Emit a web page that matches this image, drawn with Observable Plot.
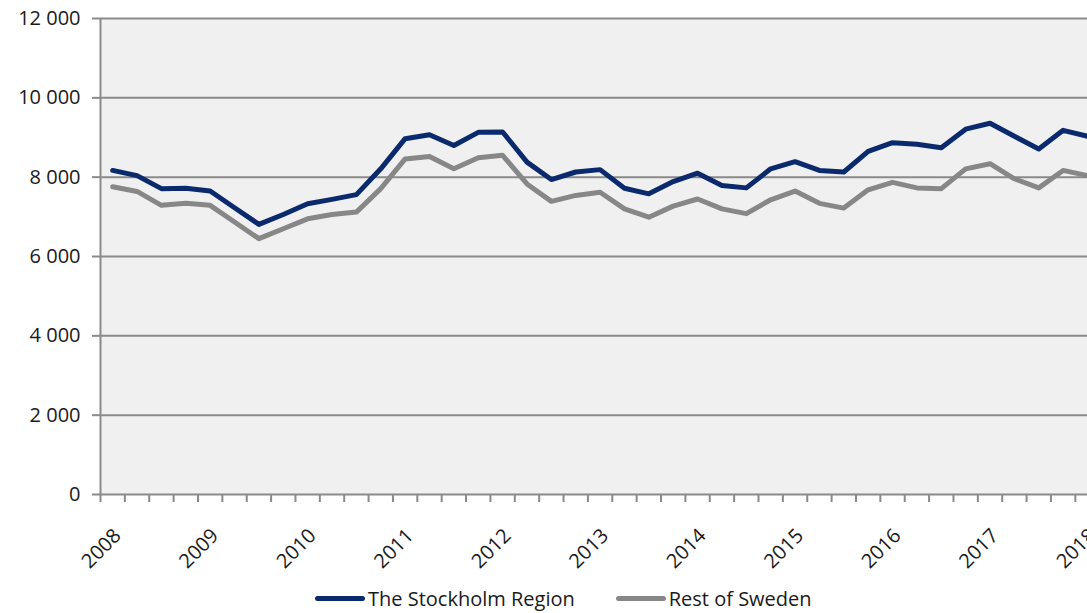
<!DOCTYPE html>
<html>
<head>
<meta charset="utf-8">
<script src="https://cdn.jsdelivr.net/npm/d3@7"></script>
<script src="https://cdn.jsdelivr.net/npm/@observablehq/plot@0.6"></script>
<style>
  html, body { margin: 0; padding: 0; background: #ffffff; }
  body { width: 1087px; height: 613px; overflow: hidden; font-family: "Open Sans", sans-serif; }
  #legend { height: 29px; display: flex; align-items: center; padding-left: 315px; font-size: 20px; color: #1a1a1a; }
  .item { display: flex; align-items: center; margin-right: 41px; }
  .sw { width: 50px; height: 5px; border-radius: 3px; margin-right: 3px; }
</style>
</head>
<body>
<div id="chart"></div>
<div id="legend"></div>
<script>
// ---- data ----
const years = [2008, 2009, 2010, 2011, 2012, 2013, 2014, 2015, 2016, 2017, 2018];
const seriesNames = ["The Stockholm Region", "Rest of Sweden"];
const stockholm = [8170, 8040, 7710, 7720, 7650, 7230, 6810, 7060, 7330, 7440, 7560, 8210,
  8970, 9070, 8800, 9130, 9140, 8380, 7940, 8130, 8190, 7720, 7580, 7890,
  8100, 7790, 7730, 8210, 8390, 8170, 8130, 8650, 8870, 8830, 8740, 9210,
  9360, 9030, 8710, 9180, 9030];
const restOfSweden = [7760, 7640, 7290, 7340, 7290, 6870, 6450, 6700, 6950, 7060, 7120, 7710,
  8460, 8520, 8210, 8490, 8550, 7830, 7390, 7540, 7620, 7200, 6990, 7270,
  7450, 7200, 7080, 7430, 7650, 7340, 7220, 7680, 7870, 7730, 7710, 8210,
  8340, 7960, 7730, 8170, 8040];
const yTicks = [0, 2000, 4000, 6000, 8000, 10000, 12000];

// quarterly periods 2008 Q1 .. 2018 Q1 (as fractional years)
const periods = stockholm.map((_, i) => years[0] + i / 4);
const colors = ["#0b2a6e", "#878787"];

const rows = [];
periods.forEach((t, i) => {
  rows.push({t, v: stockholm[i], s: seriesNames[0]});
  rows.push({t, v: restOfSweden[i], s: seriesNames[1]});
});
const xMin = periods[0] - 0.125;
const boundaries = periods.map(t => t - 0.125);
const fmt = d => d3.format(",")(d).replace(/,/g, "\u00a0");

const chart = Plot.plot({
  width: 1087,
  height: 584,
  marginLeft: 100,
  marginRight: 0,
  marginTop: 18,
  marginBottom: 90,
  style: {fontFamily: "Open Sans, sans-serif", color: "#1a1a1a", background: "#ffffff"},
  x: {type: "linear", domain: [xMin, periods[periods.length - 1]]},
  y: {domain: [0, 12000]},
  color: {domain: seriesNames, range: colors},
  marks: [
    Plot.frame({fill: "#f0f0f0", stroke: null}),
    Plot.ruleY(yTicks, {stroke: "#8a8a8a", strokeWidth: 2}),
    Plot.ruleX([xMin], {stroke: "#8a8a8a", strokeWidth: 2}),
    Plot.axisY({ticks: yTicks, tickFormat: fmt, tickSize: 8, tickPadding: 12, fontSize: 20,
      stroke: "#8a8a8a", strokeWidth: 2, fill: "#1a1a1a", label: null}),
    Plot.axisX({ticks: boundaries, tickFormat: () => "", tickSize: 8, stroke: "#8a8a8a", strokeWidth: 2, label: null}),
    Plot.axisX({ticks: years, tickFormat: d => String(d), tickSize: 0, tickPadding: 38, tickRotate: -45,
      fontSize: 20, fill: "#1a1a1a", dx: 5, label: null}),
    Plot.line(rows, {x: "t", y: "v", z: "s", stroke: "s", strokeWidth: 5, strokeLinejoin: "round", clip: true})
  ]
});
document.getElementById("chart").appendChild(chart);

const legend = document.getElementById("legend");
seriesNames.forEach((name, i) => {
  const item = document.createElement("div");
  item.className = "item";
  const sw = document.createElement("div");
  sw.className = "sw";
  sw.style.background = colors[i];
  const label = document.createElement("span");
  label.textContent = name;
  item.appendChild(sw);
  item.appendChild(label);
  legend.appendChild(item);
});
</script>
</body>
</html>
